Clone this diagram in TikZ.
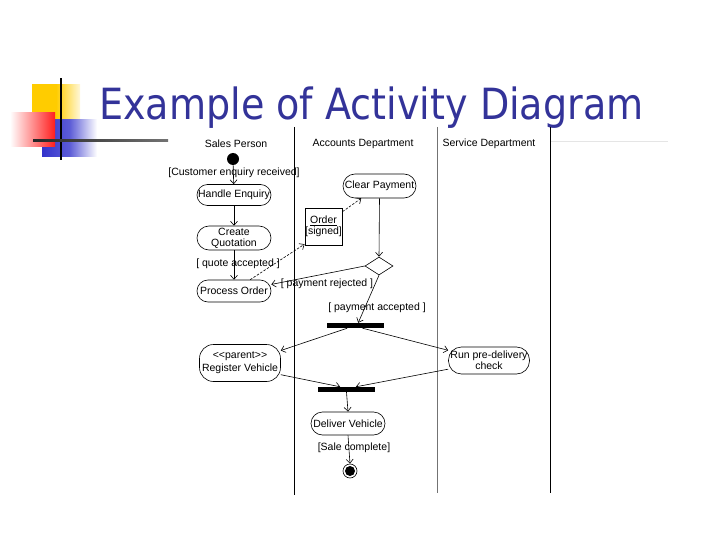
\documentclass[tikz,border=0pt]{standalone}
\usepackage{fontspec}
\setmainfont{Liberation Sans}[Ligatures=TeXOff]
\newfontfamily\titlefont{DejaVu Sans}
\usetikzlibrary{arrows.meta,shapes.geometric,calc}
\definecolor{titleblue}{RGB}{51,51,153}
\definecolor{logoyellow}{RGB}{255,204,0}
\definecolor{logoblue}{RGB}{51,51,204}
\definecolor{logored}{RGB}{255,30,30}
\begin{document}
\begin{tikzpicture}[x=1pt,y=-1pt,
  txt/.style={font=\fontsize{10.5}{11}\selectfont, inner sep=0pt, align=center},
  act/.style={txt, draw, line width=0.6pt, inner sep=0.3pt},
  bar/.style={fill=black, draw=none, minimum width=57pt, minimum height=5pt, inner sep=0pt},
  flow/.style={-{Straight Barb[length=4pt,width=7pt]}, line width=0.6pt},
  dflow/.style={flow, dashed, dash pattern=on 2.5pt off 1.5pt},
  lane/.style={line width=0.9pt}]
\useasboundingbox (0,0) rectangle (720,540);
% logo
\fill[left color=logoyellow, right color=logoyellow!15, middle color=logoyellow] (32,85) rectangle (80,122);
\fill[left color=logoblue, right color=white, middle color=logoblue!80] (42,120) rectangle (97,157);
\fill[left color=white, right color=logored] (10,113) rectangle (55,147);
\fill[black] (60,78) rectangle (62,160);
\fill[left color=black!85, right color=black!55] (33,140) rectangle (168,142);
\fill[black!10] (550,141) rectangle (668,142.5);
% title
\node[anchor=base west, inner sep=0pt, text=titleblue, font=\titlefont\fontsize{43}{43}\selectfont] (title) at (99,120) {\scalebox{0.886}[1]{Example of Activity Diagram}};
% lanes
\draw[lane] (294,127) -- (294,495);
\draw[lane, black!55] (437,127) -- (437,493);
\draw[lane] (550,127) -- (550,493);
\node[txt] (h1) at (236,144) {Sales Person};
\node[txt] (h2) at (363,144) {Accounts Department};
\node[txt] (h3) at (489,144) {Service Department};
% nodes
\node[circle, fill=black, minimum size=12pt, inner sep=0pt] (start) at (233,159) {};
\node[act, rounded corners=10.5pt, minimum width=74pt, minimum height=21pt] (he) at (234,195) {Handle Enquiry};
\node[act, rounded corners=12pt, minimum width=74pt, minimum height=24pt] (cq) at (234,238) {Create\\Quotation};
\node[act, rounded corners=11pt, minimum width=74pt, minimum height=22pt] (po) at (234,291) {Process Order};
\node[act, rounded corners=0pt, minimum width=35pt, minimum height=37pt] (ord) at (323.5,226.5) {\underline{Order}\\{[signed]}};
\node[act, rounded corners=12pt, minimum width=73pt, minimum height=24pt] (cp) at (379.5,186) {Clear Payment};
\node[draw, diamond, line width=0.6pt, minimum width=28pt, minimum height=18pt, inner sep=0pt] (dia) at (379,266) {};
\node[bar] (f1) at (355.5,325.5) {};
\node[act, rounded corners=14pt, minimum width=81pt, minimum height=37pt] (rv) at (240,363) {<<parent>>\\[2pt]Register Vehicle};
\node[act, rounded corners=13pt, minimum width=81pt, minimum height=27pt] (rd) at (489,360.5) {Run pre-delivery\\check};
\node[bar] (j) at (346.5,389.5) {};
\node[act, rounded corners=11.5pt, minimum width=74pt, minimum height=23pt] (dv) at (348,423.5) {Deliver Vehicle};
\node[circle, draw, line width=0.6pt, minimum size=14pt, inner sep=0pt] (end) at (350,471) {};
\node[circle, fill=black, minimum size=10pt, inner sep=0pt] (endin) at (end.center) {};
% labels
\node[txt] (l1) at (234,173) {[Customer enquiry received]};
\node[txt] (l2) at (238,264) {[ quote accepted ]};
\node[txt] (l3) at (327,284) {[ payment rejected ]};
\node[txt] (l4) at (377,308) {[ payment accepted ]};
\node[txt] (l5) at (354,448) {[Sale complete]};
% connectors
\draw[flow] (start) -- (he);
\draw[flow] (he) -- (cq);
\draw[flow] (cq) -- (po);
\draw[dflow] (po.35) -- (ord.223);
\draw[dflow] (ord.38) -- (cp.214);
\draw[flow] (cp.south) -- (dia.north);
\draw[flow] (dia.west) -- (po.10);
\draw[flow] (dia.south) -- (f1.45);
\draw[flow] (f1.198) -- (rv.17);
\draw[flow] (f1.339) -- (rd.166);
\draw[flow] (rv.-16) -- (j.157);
\draw[flow] (rd.192) -- (j.16);
\draw[flow] (j.south) -- (dv.north);
\draw[flow] (dv.south) -- (end.north);
\end{tikzpicture}
\end{document}
